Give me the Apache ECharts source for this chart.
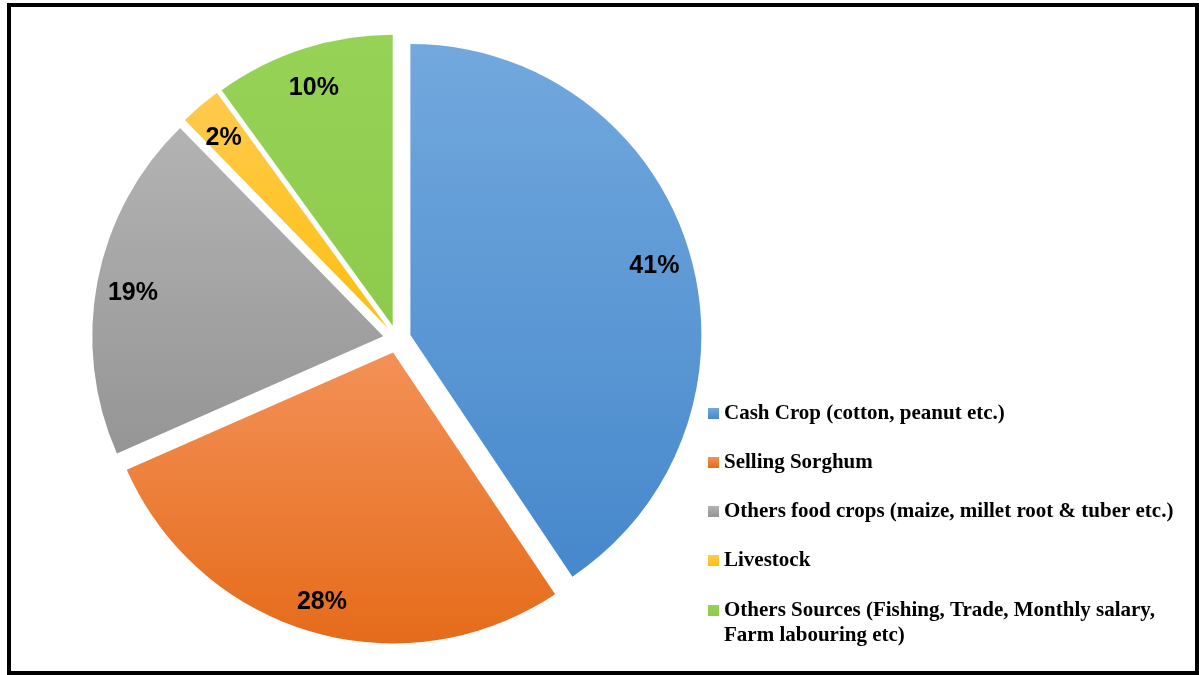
<!DOCTYPE html>
<html>
<head>
<meta charset="utf-8">
<script src="https://cdn.jsdelivr.net/npm/echarts@6/dist/echarts.min.js"></script>
<style>
  html, body { margin: 0; padding: 0; background: #ffffff; }
  #chart { width: 1199px; height: 675px; }
</style>
</head>
<body>
<div id="chart"></div>
<script>
// ---- data ----
const categories = [
  'Cash Crop (cotton, peanut etc.)',
  'Selling Sorghum',
  'Others food crops (maize, millet root & tuber etc.)',
  'Livestock',
  'Others Sources (Fishing, Trade, Monthly salary, Farm labouring etc)'
];
const shares = [40.6, 27.8, 19.3, 2.3, 10.0];

// ---- styles ----
const gradTop = ['#72a8dd', '#f39157', '#b3b3b3', '#ffca4d', '#95d256'];
const gradBottom = ['#4688cc', '#e56b1a', '#959595', '#fdbf10', '#8ecb4c'];

function grad(i) {
  return new echarts.graphic.LinearGradient(0, 0, 0, 1, [
    { offset: 0, color: gradTop[i] },
    { offset: 1, color: gradBottom[i] }
  ]);
}

const chart = echarts.init(document.getElementById('chart'), null, { renderer: 'canvas' });

const center = [397, 339];
const R = 291;
const explode = 14;

const pieData = categories.map((name, i) => ({
  name: name,
  value: shares[i],
  selected: true,
  itemStyle: { color: grad(i) }
}));

const labelData = categories.map((name, i) => ({
  name: name,
  value: shares[i],
  selected: true
}));

const legendItems = categories.map((name, i) => ({ name: name, itemStyle: { color: grad(i) } }));

const legendText = {
  fontFamily: '"Liberation Serif", "Times New Roman", serif',
  fontWeight: 'bold',
  fontSize: 21,
  lineHeight: 25,
  color: '#000000'
};

function legendBase(extra) {
  return Object.assign({
    orient: 'vertical',
    left: 708,
    height: 300,
    padding: 0,
    itemWidth: 11,
    itemHeight: 11,
    itemGap: 24,
    selectedMode: false,
    icon: 'rect',
    textStyle: legendText
  }, extra);
}

chart.setOption({
  backgroundColor: '#ffffff',
  animation: false,
  legend: [
    legendBase({ top: 401, data: legendItems.slice(0, 4) }),
    legendBase({
      top: 573,
      data: legendItems.slice(4),
      formatter: function (name) {
        return '\n' + name.replace('salary, ', 'salary,\n');
      }
    })
  ],
  series: [
    {
      type: 'pie',
      center: center,
      radius: [0, R],
      startAngle: 90,
      clockwise: true,
      selectedMode: 'multiple',
      selectedOffset: explode,
      avoidLabelOverlap: false,
      label: { show: false },
      labelLine: { show: false },
      emphasis: { disabled: true },
      itemStyle: { borderWidth: 0 },
      data: pieData
    },
    {
      type: 'pie',
      center: center,
      radius: [213, R],
      startAngle: 90,
      clockwise: true,
      selectedMode: 'multiple',
      selectedOffset: explode,
      percentPrecision: 0,
      silent: true,
      avoidLabelOverlap: false,
      itemStyle: { color: 'rgba(0,0,0,0)', borderWidth: 0 },
      emphasis: { disabled: true },
      labelLine: { show: false },
      labelLayout: { dy: 5 },
      label: {
        show: true,
        position: 'inside',
        formatter: '{d}%',
        fontFamily: '"Liberation Sans", Arial, sans-serif',
        fontWeight: 'bold',
        fontSize: 25,
        color: '#000000'
      },
      data: labelData
    }
  ],
  graphic: [
    {
      type: 'rect',
      shape: { x: 9, y: 5, width: 1188, height: 668 },
      style: { fill: 'none', stroke: '#000000', lineWidth: 4 },
      silent: true
    }
  ]
});
</script>
</body>
</html>
